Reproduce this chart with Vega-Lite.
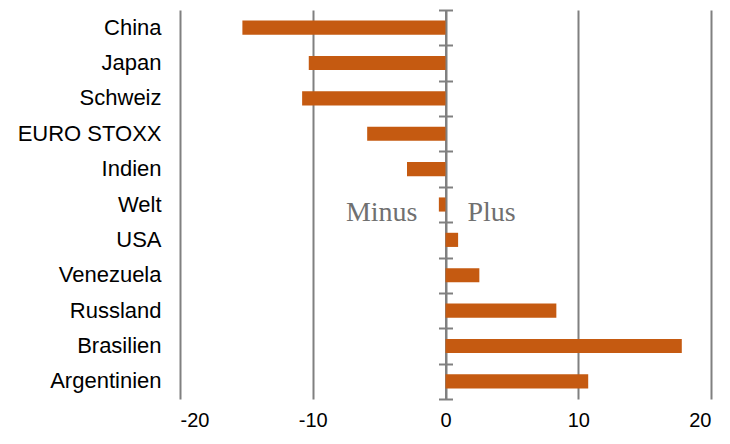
{
  "$schema": "https://vega.github.io/schema/vega-lite/v6.json",
  "width": 531,
  "height": 389,
  "autosize": {"type": "none"},
  "padding": {"left": 180, "top": 10, "right": 19, "bottom": 45},
  "background": "white",
  "config": {"view": {"stroke": null}},
  "datasets": {
    "bars": [
      {"cat": "China", "v": -15.3},
      {"cat": "Japan", "v": -10.3},
      {"cat": "Schweiz", "v": -10.8},
      {"cat": "EURO STOXX", "v": -5.9},
      {"cat": "Indien", "v": -2.9},
      {"cat": "Welt", "v": -0.5},
      {"cat": "USA", "v": 0.95},
      {"cat": "Venezuela", "v": 2.55},
      {"cat": "Russland", "v": 8.35},
      {"cat": "Brasilien", "v": 17.8},
      {"cat": "Argentinien", "v": 10.75}
    ],
    "labels": [
      {"cat": "Welt", "v": 0, "label": "Minus"},
      {"cat": "Welt", "v": 0, "label": "Plus"}
    ]
  },
  "resolve": {"axis": {"y": "independent"}},
  "layer": [
    {
      "data": {"name": "bars"},
      "mark": {"type": "bar", "color": "#C55A11", "height": {"band": 0.4}},
      "encoding": {
        "y": {
          "field": "cat", "type": "nominal", "title": null,
          "scale": {"domain": ["China","Japan","Schweiz","EURO STOXX","Indien","Welt","USA","Venezuela","Russland","Brasilien","Argentinien"], "paddingInner": 0, "paddingOuter": 0},
          "axis": {"orient": "left", "domain": false, "ticks": false, "grid": false, "labelFont": "Liberation Sans", "labelFontSize": 22, "labelColor": "#000000", "labelPadding": 19}
        },
        "x": {
          "field": "v", "type": "quantitative", "title": null,
          "scale": {"domain": [-20, 20], "nice": false, "zero": false},
          "axis": {"values": [-20, -10, 0, 10, 20], "labelExpr": "toString(datum.value)", "domain": false, "ticks": false, "grid": true, "gridColor": "#808080", "gridWidth": 2, "labelFont": "Liberation Sans", "labelFontSize": 20, "labelColor": "#000000", "labelPadding": 11}
        }
      }
    },
    {
      "data": {"name": "labels"},
      "transform": [{"filter": "datum.label === 'Minus'"}],
      "mark": {"type": "text", "align": "right", "baseline": "alphabetic", "dx": -28, "dy": 16, "font": "Liberation Serif", "fontSize": 28, "color": "#707070"},
      "encoding": {
        "text": {"field": "label"},
        "y": {
          "field": "cat", "type": "nominal", "title": null,
          "scale": {"domain": ["China","Japan","Schweiz","EURO STOXX","Indien","Welt","USA","Venezuela","Russland","Brasilien","Argentinien"], "paddingInner": 0, "paddingOuter": 0},
          "axis": {"orient": "left", "offset": -265.5, "labels": false, "grid": false, "domain": true, "domainColor": "#808080", "domainWidth": 2, "ticks": true, "tickBand": "extent", "tickColor": "#808080", "tickWidth": 2, "tickSize": 7}
        },
        "x": {
          "field": "v", "type": "quantitative", "title": null,
          "scale": {"domain": [-20, 20], "nice": false, "zero": false},
          "axis": {"values": [-20, -10, 0, 10, 20], "labelExpr": "toString(datum.value)", "domain": false, "ticks": false, "grid": true, "gridColor": "#808080", "gridWidth": 2, "labelFont": "Liberation Sans", "labelFontSize": 20, "labelColor": "#000000", "labelPadding": 11}
        }
      }
    },
    {
      "data": {"name": "labels"},
      "transform": [{"filter": "datum.label === 'Plus'"}],
      "mark": {"type": "text", "align": "left", "baseline": "alphabetic", "dx": 22, "dy": 16, "font": "Liberation Serif", "fontSize": 28, "color": "#707070"},
      "encoding": {
        "text": {"field": "label"},
        "y": {
          "field": "cat", "type": "nominal", "title": null,
          "scale": {"domain": ["China","Japan","Schweiz","EURO STOXX","Indien","Welt","USA","Venezuela","Russland","Brasilien","Argentinien"], "paddingInner": 0, "paddingOuter": 0},
          "axis": {"orient": "right", "offset": -265.5, "labels": false, "grid": false, "domain": false, "ticks": true, "tickBand": "extent", "tickColor": "#808080", "tickWidth": 2, "tickSize": 7}
        },
        "x": {
          "field": "v", "type": "quantitative", "title": null,
          "scale": {"domain": [-20, 20], "nice": false, "zero": false},
          "axis": {"values": [-20, -10, 0, 10, 20], "labelExpr": "toString(datum.value)", "domain": false, "ticks": false, "grid": true, "gridColor": "#808080", "gridWidth": 2, "labelFont": "Liberation Sans", "labelFontSize": 20, "labelColor": "#000000", "labelPadding": 11}
        }
      }
    }
  ]
}
